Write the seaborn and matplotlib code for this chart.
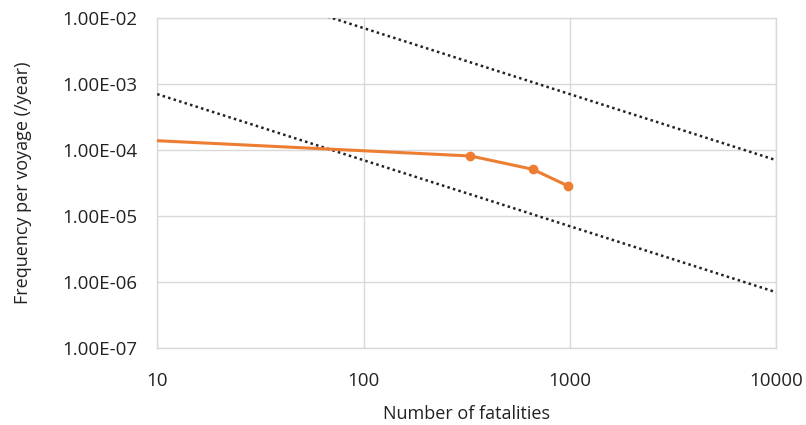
import matplotlib
matplotlib.use("Agg")
import matplotlib.pyplot as plt
import matplotlib.ticker as mticker
import pandas as pd
import seaborn as sns

# FN curve data
fatalities = [10, 330, 660, 980]
frequency = [1.38e-4, 8.1e-5, 5.1e-5, 2.85e-5]

# Criteria lines (slope -1)
criteria_x = [10, 10000]
upper_y = [7e-2, 7e-5]
lower_y = [7e-4, 7e-7]

x_ticks = [10, 100, 1000, 10000]
y_ticks = [1e-7, 1e-6, 1e-5, 1e-4, 1e-3, 1e-2]

sns.set_theme(style="white")
plt.rcParams["font.family"] = ["Open Sans", "DejaVu Sans"]

fig, ax = plt.subplots(figsize=(8.06, 4.25), dpi=100)
fig.subplots_adjust(left=0.195, right=0.963, top=0.958, bottom=0.181)

fn = pd.DataFrame({"x": fatalities, "y": frequency})
sns.lineplot(data=fn, x="x", y="y", ax=ax, color="#ED7D31", linewidth=2.2,
             marker="o", markersize=7, markeredgewidth=0, markevery=[1, 2, 3], zorder=4)
sns.lineplot(x=criteria_x, y=upper_y, ax=ax, color="#222222", linestyle=(0, (1, 1.3)),
             linewidth=1.8, zorder=3)
sns.lineplot(x=criteria_x, y=lower_y, ax=ax, color="#222222", linestyle=(0, (1, 1.3)),
             linewidth=1.8, zorder=3)

ax.set_xscale("log")
ax.set_yscale("log")
ax.set_xlim(10, 10000)
ax.set_ylim(1e-7, 1e-2)
ax.set_xticks(x_ticks)
ax.set_yticks(y_ticks)
ax.xaxis.set_major_formatter(mticker.FuncFormatter(lambda v, p: f"{v:.0f}"))
ax.yaxis.set_major_formatter(mticker.FuncFormatter(lambda v, p: f"{v:.2E}"))
ax.xaxis.set_minor_locator(mticker.NullLocator())
ax.yaxis.set_minor_locator(mticker.NullLocator())
ax.grid(True, color="#d9d9d9", linewidth=1)
for s in ax.spines.values():
    s.set_color("#d9d9d9")
    s.set_linewidth(1)
ax.tick_params(axis="both", labelsize=13.5, colors="#222222", length=0)
ax.tick_params(axis="x", pad=17)
ax.tick_params(axis="y", pad=14)
ax.set_xlabel("Number of fatalities", fontsize=13, color="#222222", labelpad=11)
ax.set_ylabel("Frequency per voyage (/year)", fontsize=13, color="#222222", labelpad=22)

fig.savefig("out.png", dpi=100, facecolor="white")
